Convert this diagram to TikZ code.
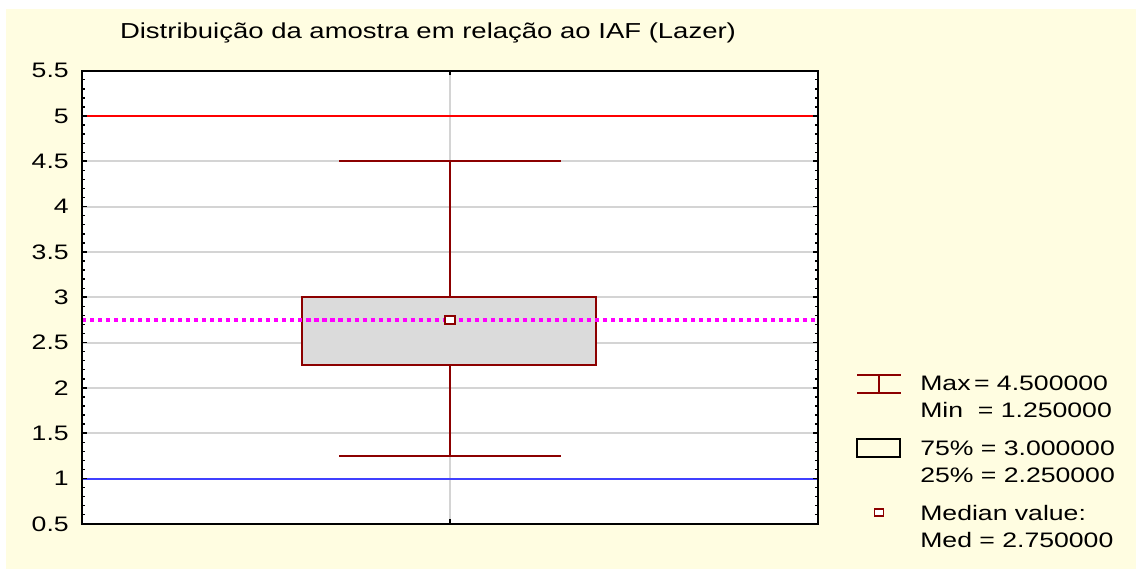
\documentclass[tikz,border=0pt]{standalone}
\usepackage{fontspec}
\setmainfont{Liberation Sans}[FakeStretch=1.27]
\definecolor{fondo}{RGB}{255,253,225}
\definecolor{caixa}{RGB}{140,0,0}
\definecolor{grelha}{RGB}{212,212,212}
\definecolor{azul}{RGB}{64,64,255}
\definecolor{rosa}{RGB}{255,0,255}
\tikzset{
	rotulo/.style={font=\fontsize{14.9}{19.2}\selectfont, inner sep=0pt},
	grade/.style={color=grelha, line width=1.3pt},
	bigode/.style={color=caixa, line width=1.6pt},
}
\begin{document}
\begin{tikzpicture}[x=0.025cm, y=2.265cm]
		\useasboundingbox (0,0) rectangle (1136,6.2804);
		\fill[fondo] (6,0) rectangle (1136,6.181);
		\fill[white] (82,0.5) rectangle (818,5.5);
		% grelha
		\foreach \v in {1,1.5,...,5}{
			\draw[grade] (82,\v) -- (818,\v);
		}
		\draw[grade] (450,0.5) -- (450,5.5);
		\draw[red, line width=1.4pt] (82,5) -- (818,5);
		\draw[azul, line width=1.4pt] (82,1) -- (818,1);
		%
		% caixa e bigodes
		%
		\coordinate (q1) at (450,2.25);
		\coordinate (q3) at (450,3);
		\coordinate (max) at (450,4.5);
		\coordinate (min) at (450,1.25);
		\draw[bigode] (q3) -- (max);
		\draw[bigode] (q1) -- (min);
		\draw[bigode] (339,4.5) -- (561,4.5);
		\draw[bigode] (339,1.25) -- (561,1.25);
		\filldraw[fill=gray!28, draw=caixa, line width=1.6pt] (302,2.25) rectangle (596,3);
		\draw[rosa, line width=2.7pt, dash pattern=on 2.9pt off 2.8pt] (82,2.75) -- (818,2.75);
		\node[draw=caixa, fill=white, line width=1.4pt, minimum width=10*0.025cm, minimum height=8*0.025cm, inner sep=0pt] (med) at (450,2.75) {};
		%
		% eixos
		%
		\draw[line width=1.5pt] (82,0.5) rectangle (818,5.5);
		\foreach \i in {5,...,55}{
			\draw[line width=1pt] (82,\i/10) -- ++(3,0);
			\draw[line width=1pt] (818,\i/10) -- ++(-3,0);
		}
		\foreach \v in {0.5,1,1.5,2,2.5,3,3.5,4,4.5,5,5.5}{
			\draw[line width=1.2pt] (82,\v) -- ++(5,0);
			\draw[line width=1.2pt] (818,\v) -- ++(-5,0);
			\node[rotulo, anchor=east] (y\v) at (69,\v) {\v};
		}
		\draw[line width=1.6pt] (450,0.5) -- ++(0,0.05);
		\draw[line width=1.6pt] (450,5.5) -- ++(0,-0.05);
		\node[rotulo, font=\fontsize{15.4}{19.2}\selectfont] (titulo) at (428,5.916) {Distribuição da amostra em relação ao IAF (Lazer)};
		%
		% legenda
		%
		\draw[bigode] (857,2.141) -- (901,2.141);
		\draw[bigode] (857,1.943) -- (901,1.943);
		\draw[bigode] (879,2.141) -- (879,1.943);
		\node[rotulo, anchor=west, align=left] (legmax) at (920,1.904) {Max\,= 4.500000\\Min \ = 1.250000};
		\draw[line width=1.4pt] (857,1.236) rectangle (900,1.435);
		\node[rotulo, anchor=west, align=left] (legcaixa) at (920,1.187) {75\% = 3.000000\\25\% = 2.250000};
		\node[draw=caixa, fill=white, line width=1.4pt, minimum width=9*0.025cm, minimum height=7*0.025cm, inner sep=0pt] (legmed) at (879,0.624) {};
		\node[rotulo, anchor=west, align=left] (legmediana) at (920,0.475) {Median value:\\Med = 2.750000};
	\end{tikzpicture}
\end{document}
